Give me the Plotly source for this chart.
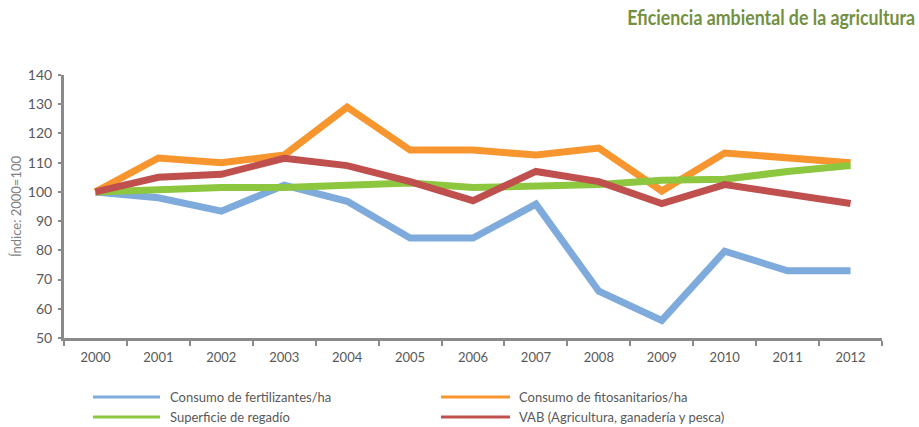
import plotly.graph_objects as go

years = ["2000", "2001", "2002", "2003", "2004", "2005", "2006",
         "2007", "2008", "2009", "2010", "2011", "2012"]
fertilizantes = [100, 98, 93.4, 102.3, 96.8, 84.2, 84.2, 95.8, 66, 56, 79.7, 73, 73]
fitosanitarios = [100, 111.6, 110, 112.6, 129, 114.3, 114.3, 112.6, 115, 100.3, 113.3, 111.6, 110]
regadio = [100, 100.7, 101.5, 101.5, 102.3, 103, 101.5, 102.3, 102.5, 104, 104.3, 107, 109]
vab = [100, 105, 106, 111.5, 109, 103.5, 97, 107, 103.5, 96, 102.5, 99, 96]

series = [
    ("Consumo de fertilizantes/ha", fertilizantes, "#7eabdb"),
    ("Consumo de fitosanitarios/ha", fitosanitarios, "#f7962e"),
    ("Superficie de regadío", regadio, "#8dc63f"),
    ("VAB (Agricultura, ganadería y pesca)", vab, "#c0504d"),
]
title_text = "Eficiencia ambiental de la agricultura"

W, H = 919, 427
L, R, T, B = 64, 37, 75, 89
pw, ph = W - L - R, H - T - B


def px_x(px):
    return (px - L) / pw


def px_y(py):
    return (H - B - py) / ph


fig = go.Figure()
for name, vals, col in series:
    fig.add_trace(go.Scatter(x=years, y=vals, name=name, mode="lines",
                             line=dict(color=col, width=7), showlegend=False))

# manual legend (2 columns x 2 rows)
leg_pos = [(93, 160, 168, 397), (441, 510, 517, 397),
           (93, 160, 168, 417), (441, 510, 517, 417)]
shapes = []
annotations = []
for (name, vals, col), (x0, x1, xt, yy) in zip(series, leg_pos):
    shapes.append(dict(type="line", xref="paper", yref="paper",
                       x0=px_x(x0), x1=px_x(x1), y0=px_y(yy), y1=px_y(yy),
                       line=dict(color=col, width=3)))
    annotations.append(dict(text=name, xref="paper", yref="paper",
                            x=px_x(xt), y=px_y(yy), xanchor="left", yanchor="middle",
                            showarrow=False, font=dict(size=13, color="#595959")))

annotations.append(dict(text=title_text, name="maintitle",
                        xref="paper", yref="paper", x=px_x(771), y=px_y(17),
                        xanchor="center", yanchor="middle", showarrow=False,
                        font=dict(family="Lato, sans-serif", weight="bold",
                                  size=20, color="#73903f")))

axis_col = "#8a8a8a"
fig.update_layout(
    width=W, height=H,
    margin=dict(l=L, r=R, t=T, b=B, autoexpand=False),
    paper_bgcolor="white", plot_bgcolor="white",
    font=dict(family="Lato, sans-serif", color="#595959", size=13),
    showlegend=False,
    xaxis=dict(type="category", range=[-0.5, 12.5], showgrid=False, automargin=False,
               showline=True, linecolor=axis_col, linewidth=3,
               ticks="outside", tickson="boundaries", ticklen=5, tickwidth=2,
               ticklabelstandoff=5,
               tickcolor=axis_col, tickfont=dict(size=13, color="#595959")),
    yaxis=dict(range=[50, 140], dtick=10, showgrid=False, zeroline=False, automargin=False,
               showline=True, linecolor=axis_col, linewidth=3,
               ticks="outside", ticklen=3, tickwidth=2, tickcolor=axis_col,
               ticklabelstandoff=3,
               tickfont=dict(size=14, color="#595959"),
               title=dict(text="Índice: 2000=100", standoff=4,
                          font=dict(size=13, color="#7f7f7f"))),
    shapes=shapes,
    annotations=annotations,
)

post = """
document.body.style.margin='0';
var gd = document.getElementById('{plot_id}');
function squeezeTitle(){
  document.querySelectorAll('.annotation-text').forEach(function(t){
    if (t.textContent.indexOf('Eficiencia') === 0) {
      t.removeAttribute('transform');
      var bb = t.getBBox();
      if (bb.width > 0) {
        var s = 288 / bb.width;
        var left = 627;
        var g = t.ownerSVGElement;
        var ctm = t.getCTM();
        var cx = bb.x + bb.width / 2;
        t.setAttribute('transform', 'translate(' + cx + ',0) scale(' + s + ',1) translate(' + (-cx) + ',0)');
      }
    }
  });
}
squeezeTitle();
if (gd && gd.on) { gd.on('plotly_afterplot', squeezeTitle); }
"""
fig.write_html("out.html", post_script=post, config={"displayModeBar": False})
